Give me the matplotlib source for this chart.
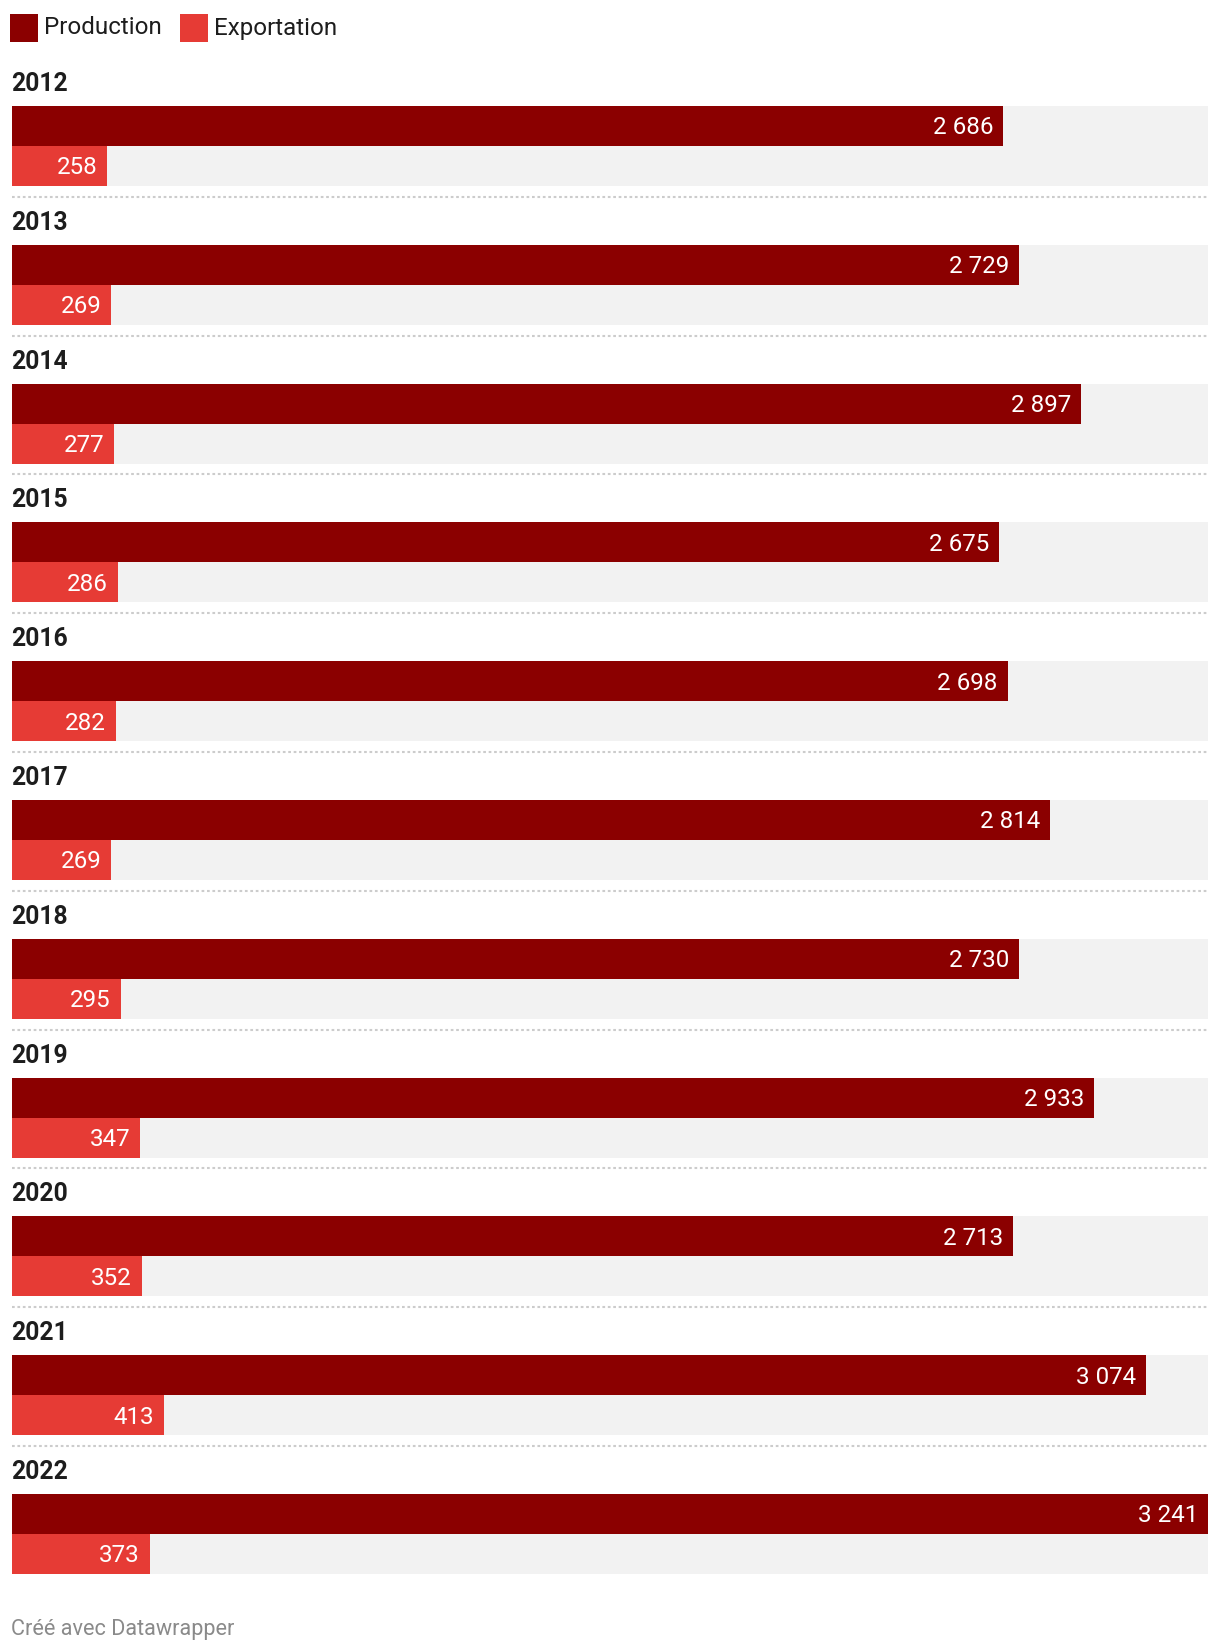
import matplotlib
matplotlib.use("Agg")
import matplotlib.pyplot as plt
from matplotlib.patches import Rectangle

years = ["2012", "2013", "2014", "2015", "2016", "2017", "2018", "2019", "2020", "2021", "2022"]
production = [2686, 2729, 2897, 2675, 2698, 2814, 2730, 2933, 2713, 3074, 3241]
exportation = [258, 269, 277, 286, 282, 269, 295, 347, 352, 413, 373]
series_names = ["Production", "Exportation"]
colors = ["#8b0000", "#e63b35"]

def fmt(v):
    return f"{v:,}".replace(",", " ")

W, H = 1220, 1650
fig = plt.figure(figsize=(W / 100, H / 100), dpi=100)
ax = fig.add_axes([0, 0, 1, 1])
ax.axis("off")

x0_px, x1_px = 12, 1208
vmax = max(production)
scale = vmax / (x1_px - x0_px)
ax.set_xlim(-x0_px * scale, (W - x0_px) * scale)
ax.set_ylim(H, 0)

pitch = 138.8
label_top = 73
bar_h = 40
font = "Roboto"

for i, yr in enumerate(years):
    base = label_top + i * pitch
    ax.text(-1 * scale, base + 11, yr, fontsize=17.7, fontweight="bold", color="#1d1d1d",
            va="center", ha="left", family=font)
    yp = base + 33 + bar_h / 2
    ye = yp + bar_h
    # background
    ax.barh([yp, ye], [vmax, vmax], height=bar_h, left=0, color="#f2f2f2", linewidth=0)
    ax.barh(yp, production[i], height=bar_h, color=colors[0], linewidth=0)
    ax.barh(ye, exportation[i], height=bar_h, color=colors[1], linewidth=0)
    ax.text(production[i] - 10 * scale, yp + 2, fmt(production[i]), color="white", fontsize=17.4,
            ha="right", va="center", family=font)
    ax.text(exportation[i] - 10 * scale, ye + 2, fmt(exportation[i]), color="white", fontsize=17.4,
            ha="right", va="center", family=font)
    if i < len(years) - 1:
        ysep = base + 123.7
        ax.plot([0, vmax], [ysep, ysep], color="#cccccc", linewidth=1.5,
                linestyle=(0, (1.3, 1.3)), solid_capstyle="butt", dash_capstyle="butt")

# legend
lx = [10, 180]
for j, name in enumerate(series_names):
    fig.patches.append(Rectangle((lx[j] / W, 1 - 42 / H), 28 / W, 28 / H,
                                 transform=fig.transFigure, color=colors[j], linewidth=0))
    fig.text((lx[j] + 34) / W, 1 - 28 / H, name, fontsize=17.4, color="#1d1d1d",
             va="center", ha="left", family=font)

fig.text(11 / W, 1 - 1629 / H, "Créé avec Datawrapper", fontsize=15.6, color="#8a8a8a",
         va="center", ha="left", family=font)

fig.savefig("out.png", dpi=100, facecolor="white")
